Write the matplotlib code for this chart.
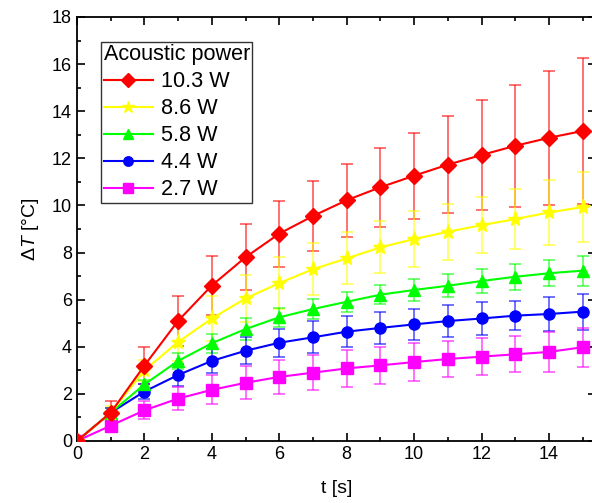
import matplotlib.pyplot as plt
from matplotlib.ticker import MultipleLocator

plt.rcParams['font.family'] = ['Liberation Sans', 'DejaVu Sans']
plt.rcParams['mathtext.fontset'] = 'custom'
plt.rcParams['mathtext.rm'] = 'Liberation Sans'
plt.rcParams['mathtext.it'] = 'Liberation Sans:italic'

t = list(range(16))

labels = ['10.3 W', '8.6 W', '5.8 W', '4.4 W', '2.7 W']
colors = ['#ff0000', '#ffff00', '#00ff00', '#0000ff', '#ff00ff']
markers = ['D', '*', '^', 'o', 's']

dT_103 = [0, 1.2, 3.2, 5.1, 6.6, 7.8, 8.8, 9.55, 10.22, 10.77, 11.26, 11.73, 12.14, 12.53, 12.87, 13.16]
err_103 = [0, 0.5, 0.8, 1.05, 1.25, 1.4, 1.4, 1.5, 1.55, 1.68, 1.83, 2.05, 2.33, 2.6, 2.85, 3.1]
dT_86 = [0, 1.2, 3.0, 4.2, 5.2, 6.05, 6.7, 7.29, 7.75, 8.22, 8.57, 8.88, 9.16, 9.42, 9.7, 9.93]
err_86 = [0, 0.3, 0.45, 0.8, 0.95, 1.0, 1.1, 1.1, 1.1, 1.1, 1.19, 1.2, 1.2, 1.29, 1.38, 1.48]
dT_58 = [0, 1.2, 2.4, 3.4, 4.15, 4.75, 5.25, 5.6, 5.91, 6.21, 6.41, 6.59, 6.79, 6.97, 7.12, 7.23]
err_58 = [0, 0.2, 0.2, 0.35, 0.4, 0.45, 0.4, 0.41, 0.43, 0.41, 0.45, 0.48, 0.5, 0.56, 0.56, 0.63]
dT_44 = [0, 1.2, 2.1, 2.8, 3.4, 3.83, 4.17, 4.4, 4.64, 4.8, 4.95, 5.09, 5.2, 5.32, 5.39, 5.49]
err_44 = [0, 0.2, 0.3, 0.45, 0.5, 0.57, 0.6, 0.68, 0.65, 0.68, 0.67, 0.68, 0.71, 0.62, 0.73, 0.76]
dT_27 = [0, 0.65, 1.3, 1.8, 2.17, 2.47, 2.72, 2.9, 3.08, 3.21, 3.35, 3.48, 3.58, 3.68, 3.78, 3.98]
err_27 = [0, 0.1, 0.38, 0.5, 0.62, 0.7, 0.73, 0.74, 0.78, 0.78, 0.79, 0.77, 0.79, 0.76, 0.85, 0.82]

series = [dT_103, dT_86, dT_58, dT_44, dT_27]
errors = [err_103, err_86, err_58, err_44, err_27]

fig = plt.figure(figsize=(5.92, 5.03), dpi=100)
ax = fig.add_axes([0.130, 0.1233, 0.877, 0.843])

handles = []
for i in reversed(range(5)):
    ax.errorbar(t, series[i], yerr=errors[i], fmt='none', ecolor=colors[i],
                elinewidth=1.3, capsize=4, capthick=1.3, alpha=0.6, zorder=2 + i * 0.1)
    ms = 11 if markers[i] == '*' else 8
    h, = ax.plot(t, series[i], color=colors[i], marker=markers[i], markersize=ms,
                 linewidth=1.5, label=labels[i], zorder=3 + (5 - i) * 0.1)
    handles.append(h)
handles = handles[::-1]

ax.set_xlim(0, 15.4)
ax.set_ylim(0, 18)
ax.xaxis.set_major_locator(MultipleLocator(2))
ax.xaxis.set_minor_locator(MultipleLocator(1))
ax.yaxis.set_major_locator(MultipleLocator(2))
ax.yaxis.set_minor_locator(MultipleLocator(1))
ax.tick_params(which='both', direction='in', top=True, right=True, labelsize=13, width=1.2)
ax.tick_params(which='major', length=6)
ax.tick_params(which='minor', length=3)
for s in ax.spines.values():
    s.set_linewidth(1.3)

ax.set_xlabel('t [s]', fontsize=14, labelpad=12)
ax.set_ylabel(r'$\mathit{\Delta T}$ [°C]', fontsize=14, labelpad=8)

leg = ax.legend(handles=handles, title='Acoustic power', loc='upper left',
                bbox_to_anchor=(0.047, 0.941), fontsize=15.6, title_fontsize=15.6,
                frameon=True, fancybox=False, edgecolor='black', handlelength=2.3,
                borderpad=0.1, labelspacing=0.28, handletextpad=0.35, borderaxespad=0,
                markerscale=0.85)
leg._legend_box.align = 'left'
leg.get_frame().set_linewidth(1.0)

fig.savefig('out.png', dpi=100)
